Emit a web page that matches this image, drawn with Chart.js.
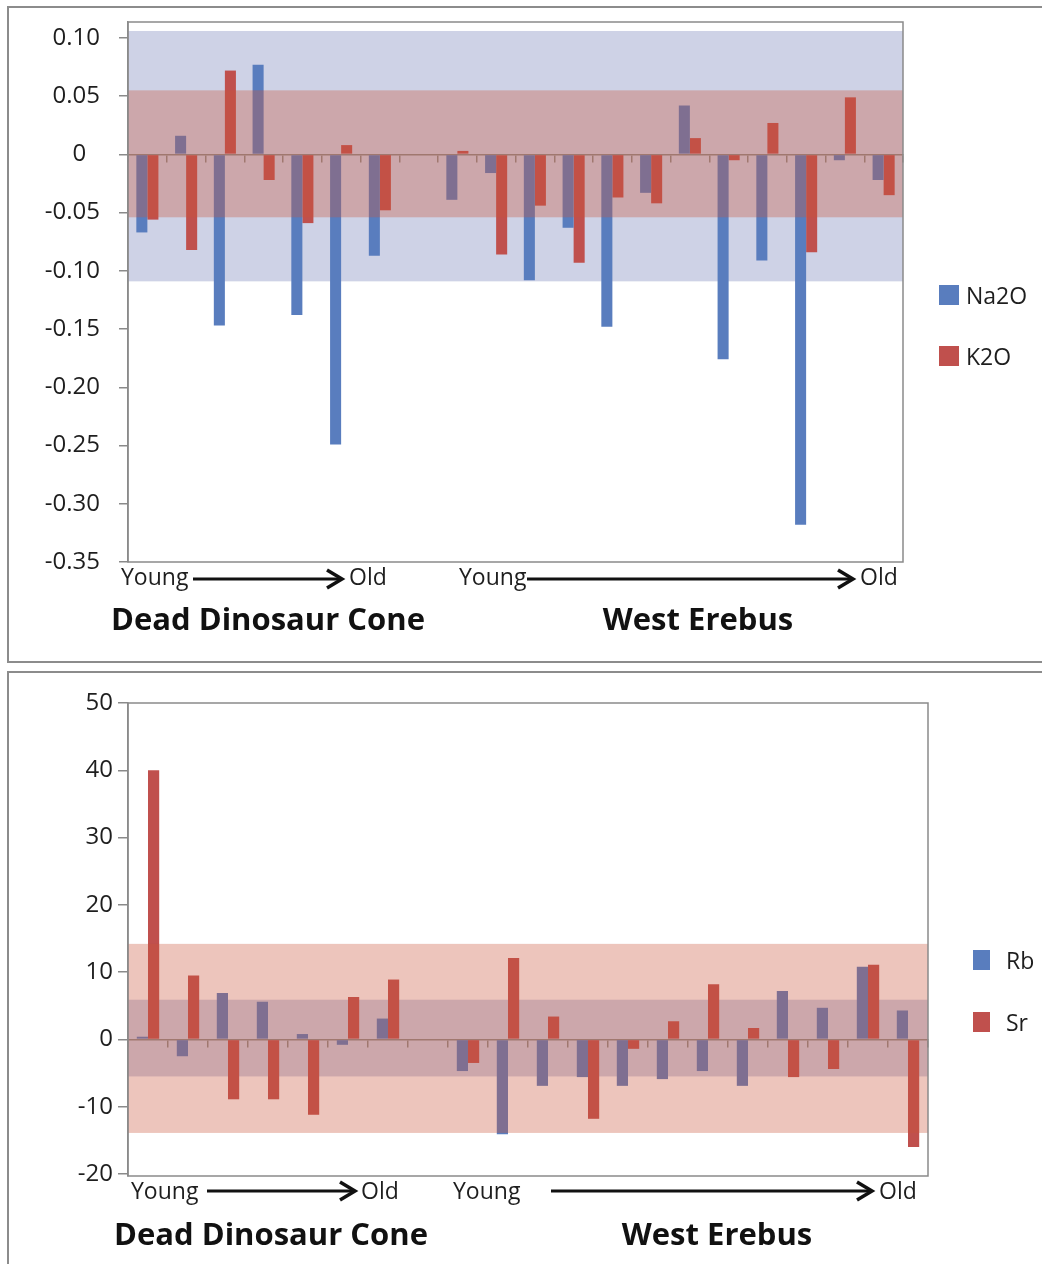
<!DOCTYPE html>
<html>
<head>
<meta charset="utf-8">
<script src="https://cdn.jsdelivr.net/npm/chart.js@4.4.1/dist/chart.umd.min.js"></script>
<style>
  html, body { margin: 0; padding: 0; background: #fff; }
  body { width: 1042px; height: 1264px; position: relative; overflow: hidden; }
  canvas { position: absolute; left: 0; }
  #oxideChart { top: 0; }
  #traceChart { top: 666px; }
</style>
</head>
<body>
<canvas id="oxideChart" width="1042" height="666"></canvas>
<canvas id="traceChart" width="1042" height="598"></canvas>
<script>
// sample slots: 7 Dead Dinosaur Cone, an empty spacer, 12 West Erebus (young -> old)
const samples = ['DDC-1', 'DDC-2', 'DDC-3', 'DDC-4', 'DDC-5', 'DDC-6', 'DDC-7', '',
  'WE-1', 'WE-2', 'WE-3', 'WE-4', 'WE-5', 'WE-6', 'WE-7', 'WE-8', 'WE-9', 'WE-10', 'WE-11', 'WE-12'];

// major oxides (wt% difference)
const na2o = [-0.067, 0.016, -0.147, 0.077, -0.138, -0.249, -0.087, null,
  -0.039, -0.016, -0.108, -0.063, -0.148, -0.033, 0.042, -0.176, -0.091, -0.318, -0.005, -0.022];
const k2o = [-0.056, -0.082, 0.072, -0.022, -0.059, 0.008, -0.048, null,
  0.003, -0.086, -0.044, -0.093, -0.037, -0.042, 0.014, -0.005, 0.027, -0.084, 0.049, -0.035];
const na2oBand = [-0.109, 0.106];
const k2oBand = [-0.054, 0.055];
const oxideTicks = [-0.35, -0.30, -0.25, -0.20, -0.15, -0.10, -0.05, 0, 0.05, 0.10];
const oxideTickLabels = ['-0.35', '-0.30', '-0.25', '-0.20', '-0.15', '-0.10', '-0.05', '0\u2007', '0.05', '0.10'];

// trace elements (ppm difference)
const rb = [0.4, -2.5, 6.9, 5.6, 0.8, -0.8, 3.1, null,
  -4.7, -14.1, -6.9, -5.6, -6.9, -5.9, -4.7, -6.9, 7.2, 4.7, 10.8, 4.3];
const sr = [40.0, 9.5, -8.9, -8.9, -11.2, 6.3, 8.9, null,
  -3.5, 12.1, 3.4, -11.8, -1.4, 2.7, 8.2, 1.7, -5.6, -4.4, 11.1, -16.0];
const rbBand = [-5.5, 5.9];
const srBand = [-13.9, 14.2];
const traceTicks = [-20, -10, 0, 10, 20, 30, 40, 50];
const traceTickLabels = ['-20', '-10', '0', '10', '20', '30', '40', '50'];

const BLUE = '#597DBE';
const RED = '#C0504D';
const GREY = '#8a8a8a';
const FONT = "'Open Sans', sans-serif";

Chart.defaults.font.family = FONT;

// blue-series band sits behind the bars, red-series band is washed over them
const bandPlugin = {
  id: 'bands',
  beforeDraw(chart, args, opts) {
    const { ctx, chartArea: a, scales: { y } } = chart;
    const top = y.getPixelForValue(opts.under[1]);
    const bottom = y.getPixelForValue(opts.under[0]);
    ctx.save();
    ctx.fillStyle = '#CED2E6';
    ctx.fillRect(a.left, top, a.right - a.left, bottom - top);
    ctx.restore();
  },
  afterDatasetsDraw(chart, args, opts) {
    const { ctx, chartArea: a, scales: { y } } = chart;
    const top = y.getPixelForValue(opts.over[1]);
    const bottom = y.getPixelForValue(opts.over[0]);
    ctx.save();
    ctx.fillStyle = 'rgba(202, 84, 60, 0.34)';
    ctx.fillRect(a.left, top, a.right - a.left, bottom - top);
    ctx.restore();
  }
};

function drawAgeArrow(ctx, p, baseline, lineY) {
  ctx.fillStyle = '#1e1e1e';
  ctx.textAlign = 'left';
  ctx.textBaseline = 'alphabetic';
  ctx.font = '23px ' + FONT;
  ctx.fillText('Young', p.youngX, baseline);
  ctx.fillText('Old', p.oldX, baseline);

  ctx.strokeStyle = '#111';
  ctx.lineWidth = 3;
  ctx.beginPath();
  ctx.moveTo(p.lineFrom, lineY);
  ctx.lineTo(p.tip - 2, lineY);
  ctx.stroke();
  ctx.lineWidth = 3.5;
  ctx.lineJoin = 'miter';
  ctx.beginPath();
  ctx.moveTo(p.tip - 15, lineY - 9);
  ctx.lineTo(p.tip, lineY);
  ctx.lineTo(p.tip - 15, lineY + 9);
  ctx.stroke();
}

// panel border, plot frame, legend and the age / locality captions
const panelPlugin = {
  id: 'panel',
  afterDraw(chart, args, o) {
    const { ctx, chartArea: a } = chart;
    ctx.save();

    ctx.strokeStyle = '#8c8c8c';
    ctx.lineWidth = 2;
    ctx.strokeRect(8, o.borderTop, 1100, o.borderHeight);

    ctx.strokeStyle = GREY;
    ctx.lineWidth = 1.5;
    ctx.strokeRect(a.left, a.top, a.right - a.left, a.bottom - a.top);

    ctx.font = '23px ' + FONT;
    ctx.textAlign = 'left';
    ctx.textBaseline = 'alphabetic';
    chart.data.datasets.forEach((ds, i) => {
      const base = o.legend.baselines[i];
      ctx.fillStyle = ds.backgroundColor;
      ctx.fillRect(o.legend.boxX, base - 19, o.legend.boxW, 20);
      ctx.fillStyle = '#1e1e1e';
      ctx.fillText(ds.label, o.legend.textX, base);
    });

    o.arrows.forEach(p => drawAgeArrow(ctx, p, o.arrowBaseline, o.arrowLineY));

    ctx.fillStyle = '#111';
    ctx.textAlign = 'center';
    ctx.font = 'bold 31px ' + FONT;
    o.titles.forEach(t => ctx.fillText(t.text, t.x, o.titleBaseline));

    ctx.restore();
  }
};

function makeChart(id, cfg) {
  return new Chart(document.getElementById(id), {
    type: 'bar',
    data: {
      labels: samples,
      datasets: cfg.series.map(s => ({
        label: s.label,
        data: s.data,
        backgroundColor: s.color,
        borderWidth: 0,
        barPercentage: 1,
        categoryPercentage: cfg.groupWidth
      }))
    },
    options: {
      responsive: false,
      animation: false,
      events: [],
      layout: { padding: cfg.padding },
      plugins: {
        legend: { display: false },
        tooltip: { enabled: false },
        bands: cfg.bands,
        panel: cfg.panel
      },
      scales: {
        x: {
          type: 'category',
          position: { y: 0 },
          ticks: { display: false },
          grid: { offset: true, drawOnChartArea: false, drawTicks: true, tickLength: 7, color: GREY, lineWidth: 1.5 },
          border: { display: true, color: GREY, width: 1.5 }
        },
        y: {
          min: cfg.yMin,
          max: cfg.yMax,
          // fixed axis width; label padding must not push the plot top down
          afterFit: s => { s.width = 128; s.paddingTop = 0; s.paddingBottom = 0; },
          afterBuildTicks: s => { s.ticks = cfg.ticks.map(v => ({ value: v })); },
          ticks: {
            autoSkip: false,
            padding: cfg.tickPadding,
            color: '#1e1e1e',
            font: { size: cfg.tickSize },
            callback: (v, i) => cfg.tickLabels[i]
          },
          grid: { drawOnChartArea: false, drawTicks: true, tickLength: cfg.tickLength, color: GREY, lineWidth: 1.5 },
          border: { display: true, color: GREY, width: 1.5 }
        }
      }
    },
    plugins: [bandPlugin, panelPlugin]
  });
}

makeChart('oxideChart', {
  series: [
    { label: 'Na2O', data: na2o, color: BLUE },
    { label: 'K2O', data: k2o, color: RED }
  ],
  groupWidth: 0.57,
  padding: { left: 0, top: 22, right: 139, bottom: 104 },
  yMin: -0.35,
  yMax: 0.1137,
  ticks: oxideTicks,
  tickLabels: oxideTickLabels,
  tickSize: 24,
  tickPadding: 19,
  tickLength: 9,
  bands: { under: na2oBand, over: k2oBand },
  panel: {
    borderTop: 7,
    borderHeight: 655,
    legend: { boxX: 939, boxW: 20, textX: 966, baselines: [304, 365] },
    arrows: [
      { youngX: 121, lineFrom: 193, tip: 342, oldX: 349 },
      { youngX: 459, lineFrom: 527, tip: 853, oldX: 860 }
    ],
    arrowBaseline: 585,
    arrowLineY: 579,
    titles: [
      { text: 'Dead Dinosaur Cone', x: 268 },
      { text: 'West Erebus', x: 698 }
    ],
    titleBaseline: 630
  }
});

makeChart('traceChart', {
  series: [
    { label: 'Rb', data: rb, color: BLUE },
    { label: 'Sr', data: sr, color: RED }
  ],
  groupWidth: 0.56,
  padding: { left: 0, top: 37, right: 114, bottom: 88 },
  yMin: -20.3,
  yMax: 50,
  ticks: traceTicks,
  tickLabels: traceTickLabels,
  tickSize: 24,
  tickPadding: 5,
  tickLength: 10,
  bands: { under: rbBand, over: srBand },
  panel: {
    borderTop: 6,
    borderHeight: 700,
    legend: { boxX: 973, boxW: 17, textX: 1006, baselines: [303, 365] },
    arrows: [
      { youngX: 131, lineFrom: 207, tip: 355, oldX: 361 },
      { youngX: 453, lineFrom: 551, tip: 872, oldX: 879 }
    ],
    arrowBaseline: 533,
    arrowLineY: 525,
    titles: [
      { text: 'Dead Dinosaur Cone', x: 271 },
      { text: 'West Erebus', x: 717 }
    ],
    titleBaseline: 579
  }
});
</script>
</body>
</html>
